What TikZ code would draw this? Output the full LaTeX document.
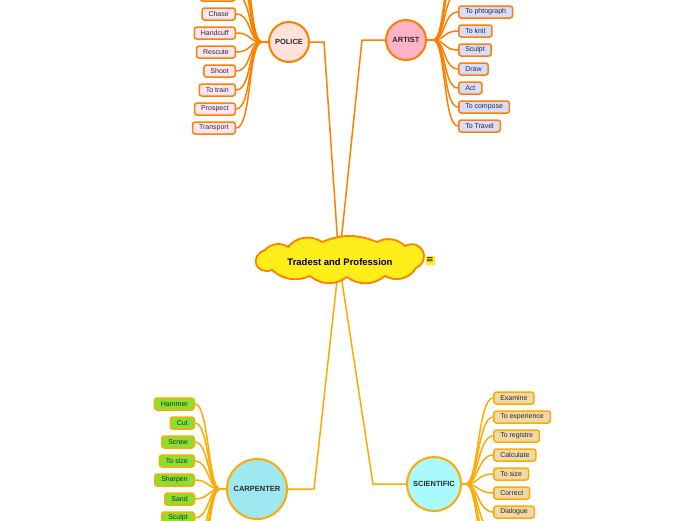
\documentclass[tikz,border=0pt]{standalone}
\usepackage{fontspec}
\setmainfont{Liberation Sans}
\newfontfamily\symfont{DejaVu Sans}
\usetikzlibrary{calc, backgrounds}
\definecolor{corange}{HTML}{FF7F00}
\definecolor{cgold}{HTML}{FFAA00}
\definecolor{ctext}{HTML}{2A2A2A}
\definecolor{cyellow}{HTML}{FFEE1A}
\definecolor{cpolice}{HTML}{FFE2DA}
\definecolor{cpolbox}{HTML}{FFE6F2}
\definecolor{cartist}{HTML}{FFB2C8}
\definecolor{cartbox}{HTML}{D8DCFC}
\definecolor{ccarp}{HTML}{A0E8F0}
\definecolor{ccarbox}{HTML}{88E030}
\definecolor{csci}{HTML}{A8FAFF}
\definecolor{cscibox}{HTML}{F0D8A8}
\tikzset{
  every picture/.style={font=\fontsize{7}{8}\selectfont, line width=1.5pt},
  leaf/.style={draw=#1, rounded corners=2.5pt, minimum height=12pt, inner xsep=6.5pt, inner ysep=0pt, text=ctext},
  leaf/.default=corange,
  topic/.style={circle, draw=#1, line width=2pt, inner sep=0pt, text=ctext, font=\bfseries\fontsize{7.5}{8}\selectfont},
  link/.style={draw=#1, line width=1.5pt},
}
\begin{document}
\begin{tikzpicture}[x=1pt, y=-1pt,
                    pol/.style={leaf=corange, fill=cpolbox, anchor=east},
                    art/.style={leaf=corange, fill=cartbox, anchor=west},
                    car/.style={leaf=cgold, fill=ccarbox, anchor=east},
                    sci/.style={leaf=cgold, fill=cscibox, anchor=west}]
  \useasboundingbox (0,0) rectangle (696,520);
  % centre
  \draw[corange, fill=cyellow, line width=1.8pt] (272,270) to[bend left=90, looseness=2.1] (265,250)
    to[bend left=40] (288,247) to[bend left=42] (322,242) to[bend left=22] (377,242) to[bend left=35] (405,246)
    to[bend left=90, looseness=1.9] (416,268) to[bend left=45] (385,276) to[bend left=38] (347,277)
    to[bend left=38] (310,276) to[bend left=32] cycle;
  \node[text=black, font=\bfseries\fontsize{9.5}{10}\selectfont] (center) at (340,262) {Tradest and Profession};
  \node[fill=cyellow, minimum size=9pt, inner sep=0pt, font=\symfont\fontsize{9}{9}\selectfont] (note) at (430,260) {≡};
  % police
  \node[topic=corange, fill=cpolice, minimum size=40pt] (police) at (289,42) {POLICE};
  \coordinate (phub) at (262,42);
  \node[pol, minimum width=35pt] (p0) at (236,-5) {};
  \foreach \n/\y [count=\i] in {Chase/14, Handcuff/33, Rescute/52, Shoot/71, To train/90, Prospect/109, Transport/128}
    \node[pol] (p\i) at (236,\y) {\n};
  \foreach \y [count=\i] in {-24,-43,-62} \coordinate (pu\i) at (236,\y);
  % artist
  \node[topic=corange, fill=cartist, minimum size=40pt] (artist) at (406,40) {ARTIST};
  \coordinate (ahub) at (433,40);
  \node[art, minimum width=54pt] (a0) at (458,-7) {};
  \foreach \n/\y [count=\i] in {To phtograph/12, To knit/31, Sculpt/50, Draw/69, Act/88, To compose/107, To Travel/126}
    \node[art] (a\i) at (458,\y) {\n};
  \foreach \y [count=\i] in {-26,-45} \coordinate (au\i) at (458,\y);
  % carpenter
  \node[topic=cgold, fill=ccarp, minimum size=60pt] (carpenter) at (257,489) {CARPENTER};
  \coordinate (chub) at (220,489);
  \foreach \n/\y [count=\i] in {Hammer/404, Cut/423, Screw/442, To size/461, Sharpen/480, Sand/499, Sculpt/518}
    \node[car] (c\i) at (195,\y) {\n};
  \foreach \y [count=\i] in {537,556,575} \coordinate (cu\i) at (195,\y);
  % scientific
  \node[topic=cgold, fill=csci, minimum size=54pt] (scientific) at (434,484) {SCIENTIFIC};
  \coordinate (shub) at (466,484);
  \foreach \n/\y [count=\i] in {Examine/398, To experience/417, To registre/436, Calculate/455, To size/474, Correct/493, Dialogue/512}
    \node[sci] (s\i) at (493,\y) {\n};
  \foreach \y [count=\i] in {531,550,569} \coordinate (su\i) at (493,\y);
  % branches
  \begin{scope}[on background layer]
    \coordinate (pk) at (324,42);
    \coordinate (ak) at (362,40);
    \coordinate (ck) at (314,489);
    \coordinate (sk) at (373,484);
    \draw[link=corange] (police.east) -- (pk) -- ($(center.center)+(-1,0)$);
    \draw[link=corange] (artist.west) -- (ak) -- ($(center.center)+(-1,0)$);
    \draw[link=cgold] (carpenter.east) -- (ck) -- ($(center.center)+(-1,0)$);
    \draw[link=cgold] (scientific.west) -- (sk) -- ($(center.center)+(-1,0)$);
    \foreach \t in {p0.east, p1.east, p2.east, p3.east, p4.east, p5.east, p6.east, p7.east, pu1, pu2, pu3}
      \draw[link=corange] (police.west) -- (phub) .. controls +(-14,0) and +(16,0) .. (\t);
    \foreach \t in {a0.west, a1.west, a2.west, a3.west, a4.west, a5.west, a6.west, a7.west, au1, au2}
      \draw[link=corange] (artist.east) -- (ahub) .. controls +(13,0) and +(-15,0) .. (\t);
    \foreach \t in {c1.east, c2.east, c3.east, c4.east, c5.east, c6.east, c7.east, cu1, cu2, cu3}
      \draw[link=cgold] (carpenter.west) -- (chub) .. controls +(-12,0) and +(14,0) .. (\t);
    \foreach \t in {s1.west, s2.west, s3.west, s4.west, s5.west, s6.west, s7.west, su1, su2, su3}
      \draw[link=cgold] (scientific.west) -- (shub) .. controls +(12,0) and +(-15,0) .. (\t);
  \end{scope}
\end{tikzpicture}
\end{document}
